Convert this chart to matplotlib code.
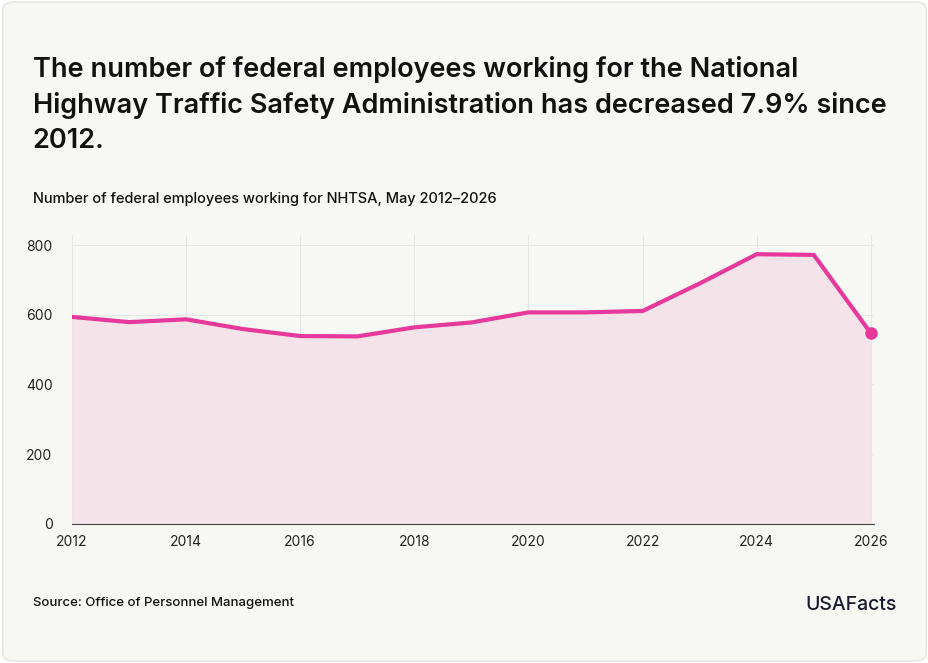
import matplotlib
matplotlib.use("Agg")
import matplotlib.pyplot as plt
from matplotlib.patches import FancyBboxPatch

years = list(range(2012, 2027))
employees = [594, 579, 587, 559, 539, 538, 564, 578, 607, 607, 611, 690, 774, 772, 547]
xticks = list(range(2012, 2027, 2))
yticks = [0, 200, 400, 600, 800]

plt.rcParams['font.family'] = ['Inter', 'DejaVu Sans']
fig = plt.figure(figsize=(9.29, 6.63), dpi=100)
fig.patch.set_facecolor('white')
bg = FancyBboxPatch((0.003, 0.003), 0.994, 0.994, boxstyle="round,pad=0,rounding_size=0.012",
                    transform=fig.transFigure, facecolor='#f7f7f4', edgecolor='#e4e4e0', lw=1, zorder=-10)
fig.patches.append(bg)

fig.text(0.035, 0.915, "The number of federal employees working for the National\nHighway Traffic Safety Administration has decreased 7.9% since\n2012.",
         fontsize=19.5, fontweight='semibold', va='top', linespacing=1.42, color='#111')
fig.text(0.035, 0.70, "Number of federal employees working for NHTSA, May 2012\u20132026",
         fontsize=10.5, fontweight='medium', va='center', color='#111')

ax = fig.add_axes([0.0775, 0.21, 0.863, 0.436], zorder=2)
ax.set_facecolor('none')
c = '#e6399b'
ax.fill_between(years, employees, 0, color='#f5e3ea', lw=0)
ax.plot(years, employees, color=c, lw=3, solid_capstyle='round', solid_joinstyle='round')
ax.plot(years[-1], employees[-1], 'o', color=c, ms=8, clip_on=False)
ax.set_xlim(2012, 2026.05)
ax.set_ylim(0, 830)
ax.set_xticks(xticks)
ax.set_yticks(yticks)
ax.grid(True, color='#e6e6e6', lw=0.8)
ax.set_axisbelow(True)
for s in ['top', 'right', 'left']:
    ax.spines[s].set_visible(False)
ax.spines['bottom'].set_color('#444')
ax.tick_params(axis='both', length=0, labelsize=10, colors='#222')
ax.tick_params(axis='x', pad=8)
ax.tick_params(axis='y', pad=14)

fig.text(0.035, 0.09, "Source: Office of Personnel Management", fontsize=9.5, fontweight='medium', va='center', color='#111')
fig.text(0.965, 0.088, "USAFacts", fontsize=14, fontweight='medium', ha='right', va='center', color='#1a1a2e')
fig.savefig("out.png", dpi=100, facecolor=fig.get_facecolor())
